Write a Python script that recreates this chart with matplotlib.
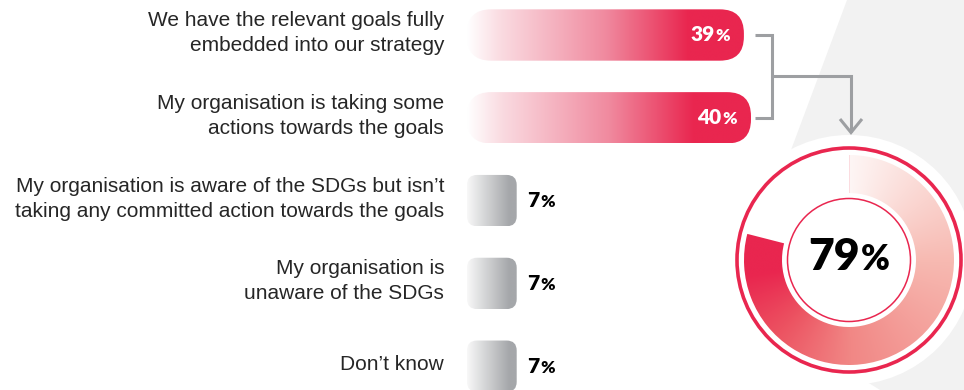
import numpy as np
import matplotlib
matplotlib.use("Agg")
import matplotlib.pyplot as plt
from matplotlib.patches import FancyBboxPatch, Polygon, Circle, Wedge
from matplotlib.colors import LinearSegmentedColormap
from matplotlib.offsetbox import TextArea, HPacker, AnnotationBbox
from matplotlib.transforms import offset_copy

# ---- data -------------------------------------------------------------
categories = [
    "We have the relevant goals fully\nembedded into our strategy",
    "My organisation is taking some\nactions towards the goals",
    "My organisation is aware of the SDGs but isn\u2019t\ntaking any committed action towards the goals",
    "My organisation is\nunaware of the SDGs",
    "Don\u2019t know",
]
values = [39, 40, 7, 7, 7]
highlight = [True, True, False, False, False]
combined_value = sum(v for v, h in zip(values, highlight) if h)  # 79

# ---- styling ----------------------------------------------------------
RED = "#e9264f"
CONNECTOR = "#9d9fa2"
LABEL_FONT = ["Liberation Sans", "DejaVu Sans"]
VALUE_FONT = ["Lato", "DejaVu Sans"]
plt.rcParams["font.family"] = LABEL_FONT

red_cmap = LinearSegmentedColormap.from_list(
    "red_bar", [(0, "#ffffff"), (0.12, "#fadbe1"), (0.5, "#f08a9f"), (0.8, RED), (1, RED)])
gray_cmap = LinearSegmentedColormap.from_list(
    "gray_bar", [(0, "#f8f8f8"), (0.85, "#a5a7aa"), (1, "#a5a7aa")])
ring_cmap = LinearSegmentedColormap.from_list(
    "ring", [(0, "#fef6f5"), (0.32, "#f7b9b1"), (0.63, "#f18785"),
             (0.79, "#ec5261"), (0.92, RED), (1, RED)])

W, H = 964, 390
fig = plt.figure(figsize=(W / 100, H / 100), dpi=100)
fig.patch.set_facecolor("white")

# background layer in pixel units
bg = fig.add_axes([0, 0, 1, 1])
bg.set_xlim(0, W)
bg.set_ylim(H, 0)
bg.axis("off")

# bar layer in percent units
x0_px, px_per, span = 467, 7.1, 60
row0, row_step = 35, 82.8
bar_h = 0.62
ax = fig.add_axes([x0_px / W, 0, span * px_per / W, 1])
ax.patch.set_alpha(0)
for s in ax.spines.values():
    s.set_visible(False)

n = len(categories)
bars = ax.barh(range(n), values, height=bar_h, color="none", edgecolor="none")
aspect = px_per / row_step
grad = np.linspace(0, 1, 512)[None, :]
for rect, v, hl in zip(bars, values, highlight):
    x, y, w, h = rect.get_x(), rect.get_y(), rect.get_width(), rect.get_height()
    rad = (24 if hl else 10) / px_per
    shape = FancyBboxPatch((x, y), w, h, boxstyle=f"round,pad=0,rounding_size={rad}",
                           mutation_aspect=aspect, facecolor="none", edgecolor="none")
    ax.add_patch(shape)
    im = ax.imshow(grad, cmap=red_cmap if hl else gray_cmap, extent=(x, x + w, y + h, y),
                   aspect="auto", interpolation="bilinear")
    im.set_clip_path(shape)


def pct_box(num, color, big, small):
    t1 = TextArea(str(num), textprops=dict(color=color, fontsize=big, fontweight="heavy",
                                            family=VALUE_FONT))
    t2 = TextArea("%", textprops=dict(color=color, fontsize=small, fontweight="heavy",
                                       family=VALUE_FONT))
    return HPacker(children=[t1, t2], align="baseline", pad=0, sep=0.8)


for i, (v, hl) in enumerate(zip(values, highlight)):
    if hl:
        box = pct_box(v, "white", 15, 12.5)
        ab = AnnotationBbox(box, (v, i), xybox=(-10, 0), xycoords="data",
                            boxcoords="offset points", box_alignment=(1, 0.5),
                            frameon=False, pad=0)
    else:
        box = pct_box(v, "black", 15, 12.5)
        ab = AnnotationBbox(box, (v, i), xybox=(7.5, 0), xycoords="data",
                            boxcoords="offset points", box_alignment=(0, 0.5),
                            frameon=False, pad=0)
    ax.add_artist(ab)

ax.set_xlim(0, span)
ax.set_ylim((H - row0) / row_step, -row0 / row_step)
ax.set_xticks([])
ax.set_yticks([])

# category labels, right-aligned just left of the bars
label_tr = offset_copy(ax.get_yaxis_transform(), fig=fig, x=-23, y=2, units="dots")
for i, cat in enumerate(categories):
    ax.text(0, i, cat, transform=label_tr, ha="right", va="center",
            fontsize=15, color="#262626", family=LABEL_FONT, linespacing=1.4)

# ---- background shape and donut ---------------------------------------
bg.add_patch(Polygon([(847, 0), (W, 0), (W, H), (880, H), (735, 300)],
                     closed=True, facecolor="#f2f2f2", edgecolor="none", zorder=0))
cx, cy = 849, 260
bg.add_patch(Circle((cx, cy), 125, facecolor="white", edgecolor="none", zorder=1))

r_out, r_in = 105, 67
frac = combined_value / 100
ring = Wedge((cx, cy), r_out, -90, -90 + 360 * frac, width=r_out - r_in,
             facecolor="none", edgecolor="none")
bg.add_patch(ring)
gx = np.linspace(cx - r_out, cx + r_out, 500)
gy = np.linspace(cy - r_out, cy + r_out, 500)
XX, YY = np.meshgrid(gx, gy)
ang = np.mod(np.arctan2(XX - cx, -(YY - cy)), 2 * np.pi) / (2 * np.pi)
tone = np.clip(ang / frac, 0, 1)
im = bg.imshow(tone, cmap=ring_cmap, origin="upper",
               extent=(cx - r_out, cx + r_out, cy + r_out, cy - r_out),
               interpolation="bilinear", zorder=2)
im.set_clip_path(ring)
bg.set_xlim(0, W)
bg.set_ylim(H, 0)
bg.set_aspect("auto")

bg.add_patch(Circle((cx, cy), 112, facecolor="none", edgecolor=RED, lw=2.6, zorder=3))
bg.add_patch(Circle((cx, cy), 61.5, facecolor="none", edgecolor=RED, lw=1.1, zorder=3))

center = pct_box(combined_value, "black", 32, 25)
bg.add_artist(AnnotationBbox(center, (cx, cy - 3), xycoords="data", box_alignment=(0.5, 0.5),
                             frameon=False, pad=0, zorder=4))

# ---- bracket connecting the two highlighted rows to the donut ---------
def row_y(i):
    disp = ax.transData.transform((0, i))
    return bg.transData.inverted().transform(disp)[1]

ya, yb = row_y(0), row_y(1)
ym = (ya + yb) / 2
kw = dict(color=CONNECTOR, lw=2.2, solid_capstyle="butt", solid_joinstyle="miter", zorder=3)
bg.plot([755, 772, 772, 755], [ya, ya, yb, yb], **kw)
bg.plot([772, 851, 851], [ym, ym, 132], **kw)
bg.plot([840, 851, 862], [119, 132.5, 119], **kw)

fig.savefig("out.png", dpi=100, facecolor="white")
